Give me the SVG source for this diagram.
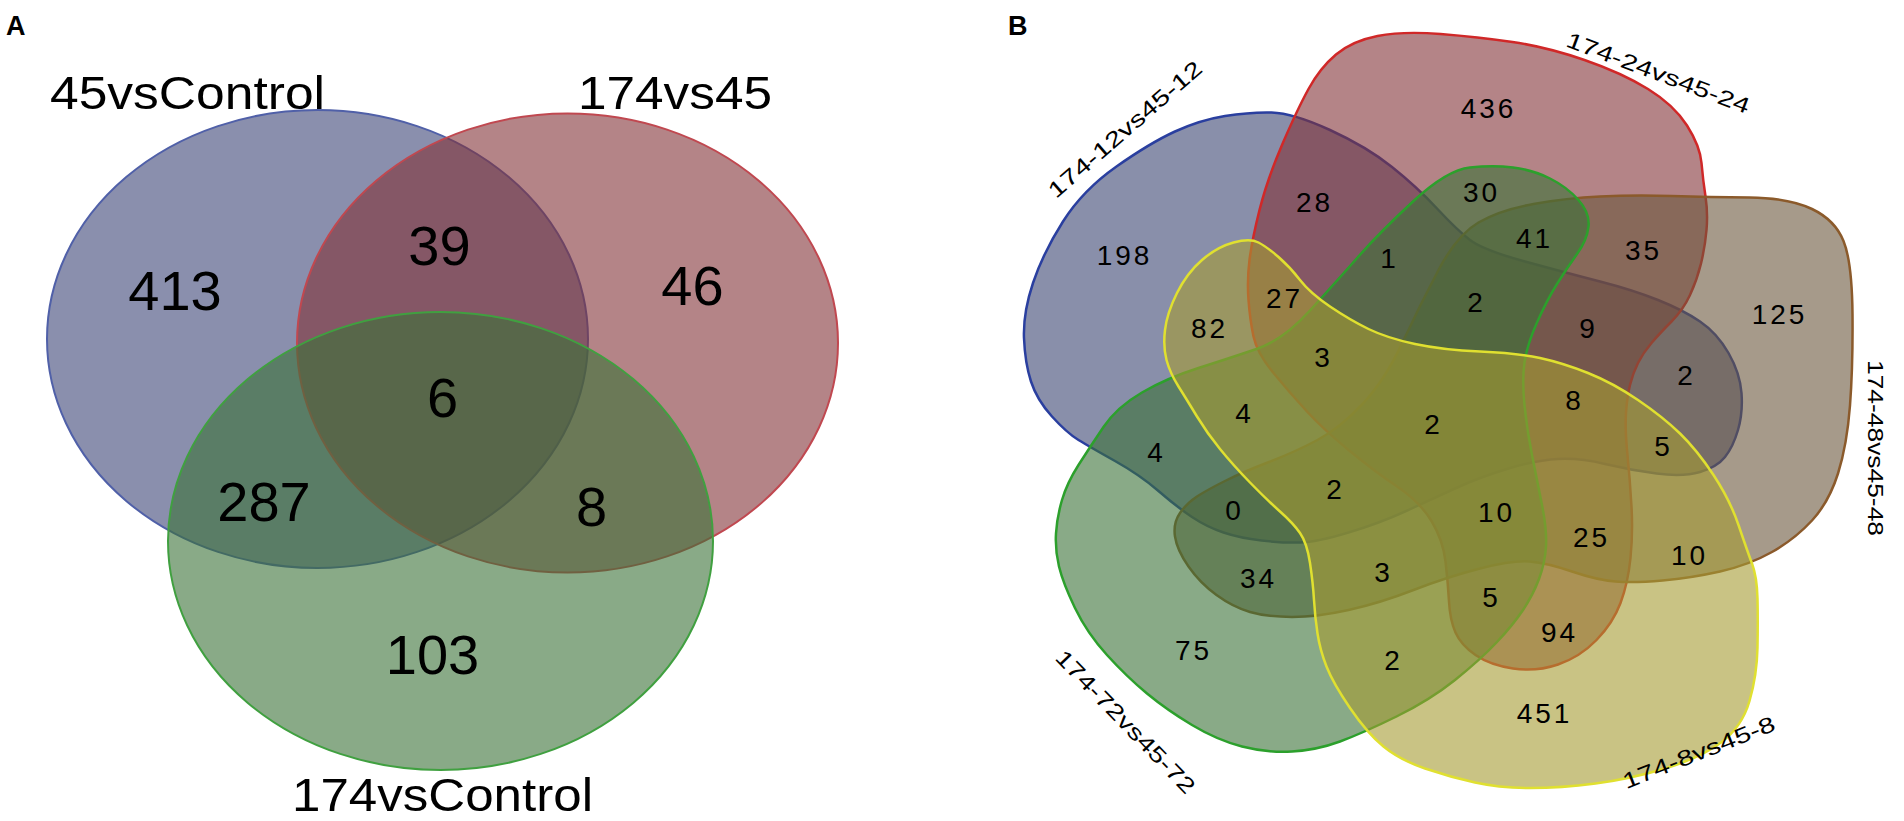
<svg xmlns="http://www.w3.org/2000/svg" width="1904" height="821" viewBox="0 0 1904 821">
<style>
text{font-family:"Liberation Sans",Arial,sans-serif;fill:#000}
.na{font-size:56px;text-anchor:middle}
.nb{font-size:28px;text-anchor:middle;letter-spacing:3px}
.lab{font-size:47px}
.lab2{font-size:22px;text-anchor:middle}
.pl{font-size:27px;font-weight:bold}
.sa{fill-opacity:0.6;stroke-width:2}
.sb{fill-opacity:0.6;stroke-width:2.5;stroke-linejoin:round}
</style>
<rect width="1904" height="821" fill="#ffffff"/>

<g id="panel-A">
<text class="pl" x="6" y="35">A</text>
<g id="set-45vsControl">
<ellipse class="sa" cx="317.5" cy="339" rx="270.5" ry="229" fill="#3c4476" stroke="#5060a8"/>
</g>
<g id="set-174vs45">
<ellipse class="sa" cx="567.5" cy="343" rx="270.5" ry="229.5" fill="#823237" stroke="#c04850"/>
</g>
<g id="set-174vsControl">
<ellipse class="sa" cx="440.5" cy="541" rx="272.5" ry="229" fill="#3a7137" stroke="#40a040"/>
</g>
<g id="labels-A">
<text class="lab" x="50" y="109" textLength="275" lengthAdjust="spacingAndGlyphs">45vsControl</text>
<text class="lab" x="578" y="109" textLength="194" lengthAdjust="spacingAndGlyphs">174vs45</text>
<text class="lab" x="292" y="811" textLength="301" lengthAdjust="spacingAndGlyphs">174vsControl</text>
</g>
<g id="counts-A">
<text class="na" x="175" y="310">413</text>
<text class="na" x="439.5" y="265">39</text>
<text class="na" x="692.5" y="305">46</text>
<text class="na" x="442.5" y="417">6</text>
<text class="na" x="264" y="521">287</text>
<text class="na" x="591.5" y="526">8</text>
<text class="na" x="432.5" y="674">103</text>
</g>
</g>

<g id="panel-B">
<text class="pl" x="1008" y="35">B</text>
<g id="set-174-12vs45-12">
<path class="sb" fill="#3a4471" stroke="#2a3f9f" d="M1330,130 Q1367,147 1392,167 Q1417,187 1437,208.5 Q1457,230 1470,240 Q1483,250 1525,261.5 Q1567,273 1600,281.5 Q1633,290 1658,300 Q1683,310 1700,321.5 Q1717,333 1728.5,353 Q1740,373 1741.5,393 Q1743,413 1738,430 Q1733,447 1725,457 Q1717,467 1700,472 Q1683,477 1656.5,473.5 Q1630,470 1605,464 Q1580,458 1558.5,459 Q1537,460 1508.5,468.5 Q1480,477 1455,488.5 Q1430,500 1405,511.5 Q1380,523 1348.5,532.5 Q1317,542 1300,542.5 Q1283,543 1261.5,540.5 Q1240,538 1223.5,532.5 Q1207,527 1192,517 Q1177,507 1158.5,491 Q1140,475 1115,461 Q1090,447 1078.5,440 Q1067,433 1052,416.5 Q1037,400 1031,381.5 Q1025,363 1024,338 Q1023,313 1033,283 Q1043,253 1063,221.5 Q1083,190 1116.5,166.5 Q1150,143 1175,131.5 Q1200,120 1225,116 Q1250,112 1271.5,112.5 Q1293,113 1330,130 Z"/>
</g>
<g id="set-174-24vs45-24">
<path class="sb" fill="#823237" stroke="#d02828" d="M1282,145 Q1267,180 1259.5,210 Q1252,240 1249.5,260 Q1247,280 1248.5,300 Q1250,320 1253.5,336.5 Q1257,353 1273.5,373 Q1290,393 1306.5,411 Q1323,429 1348.5,450 Q1374,471 1397,486.5 Q1420,502 1431.5,521 Q1443,540 1445.5,561.5 Q1448,583 1449,601.5 Q1450,620 1455.5,632.5 Q1461,645 1475.5,655 Q1490,665 1513,668.5 Q1536,672 1558,664.5 Q1580,657 1596.5,640 Q1613,623 1620.5,603 Q1628,583 1630.5,558 Q1633,533 1631.5,506.5 Q1630,480 1627.5,455 Q1625,430 1626,413.5 Q1627,397 1630,385 Q1633,373 1638,363 Q1643,353 1651.5,343 Q1660,333 1671.5,321.5 Q1683,310 1690,295 Q1697,280 1701,263.5 Q1705,247 1706.5,230 Q1708,213 1705.5,196.5 Q1703,180 1701.5,163 Q1700,146 1687,125.5 Q1674,105 1648,89 Q1622,73 1584.5,60 Q1547,47 1512.5,42 Q1478,37 1440.5,34 Q1403,31 1377.5,36 Q1352,41 1336,54.5 Q1320,68 1308.5,89 Q1297,110 1282,145 Z"/>
</g>
<g id="set-174-48vs45-48">
<path class="sb" fill="#6b573c" stroke="#8b5a2b" d="M1180,513 Q1187,503 1197,496.5 Q1207,490 1225,481 Q1243,472 1269,462 Q1295,452 1317.5,440 Q1340,428 1362.5,404 Q1385,380 1402.5,342.5 Q1420,305 1438.5,270 Q1457,235 1478.5,222.5 Q1500,210 1533.5,204 Q1567,198 1600,196.5 Q1633,195 1671.5,196 Q1710,197 1749.5,197.5 Q1789,198 1812,209 Q1835,220 1843.5,241 Q1852,262 1852.5,314 Q1853,366 1850,405.5 Q1847,445 1838,473.5 Q1829,502 1812,520.5 Q1795,539 1772,552 Q1749,565 1720,571.5 Q1691,578 1662.5,580.5 Q1634,583 1615.5,581.5 Q1597,580 1572,571.5 Q1547,563 1530,561.5 Q1513,560 1480,568.5 Q1447,577 1413.5,590 Q1380,603 1348.5,610 Q1317,617 1292,617 Q1267,617 1250,612 Q1233,607 1216.5,595 Q1200,583 1188.5,566.5 Q1177,550 1175,536.5 Q1173,523 1180,513 Z"/>
</g>
<g id="set-174-72vs45-72">
<path class="sb" fill="#3a7137" stroke="#2ca02c" d="M1513,167.5 Q1533,170 1550,178.5 Q1567,187 1578.5,200 Q1590,213 1588.5,226.5 Q1587,240 1577,254 Q1567,268 1557,284 Q1547,300 1537,322.5 Q1527,345 1524.5,362.5 Q1522,380 1524.5,405 Q1527,430 1532,455 Q1537,480 1542,505 Q1547,530 1546,546.5 Q1545,563 1539,579 Q1533,595 1523,610 Q1513,625 1496.5,642.5 Q1480,660 1455,680 Q1430,700 1396.5,716.5 Q1363,733 1340,741.5 Q1317,750 1292,751.5 Q1267,753 1242,746.5 Q1217,740 1192,725 Q1167,710 1147,693.5 Q1127,677 1107,655 Q1087,633 1075,608 Q1063,583 1059,566.5 Q1055,550 1056,533.5 Q1057,517 1062,500 Q1067,483 1078.5,465 Q1090,447 1103.5,427 Q1117,407 1142,392.5 Q1167,378 1198.5,368 Q1230,358 1256.5,349 Q1283,340 1309.5,311 Q1336,282 1358,257 Q1380,232 1413.5,201 Q1447,170 1470,167.5 Q1493,165 1513,167.5 Z"/>
</g>
<g id="set-174-8vs45-8">
<path class="sb" fill="#a59b32" stroke="#e0e030" d="M1258.5,242.5 Q1267,247 1278.5,257 Q1290,267 1300,280 Q1310,293 1330,306.5 Q1350,320 1368.5,329 Q1387,338 1415,344 Q1443,350 1480,351.5 Q1517,353 1540,358 Q1563,363 1588,373 Q1613,383 1638,400 Q1663,417 1680,433.5 Q1697,450 1713.5,475 Q1730,500 1738.5,525 Q1747,550 1752,563.5 Q1757,577 1757.5,598.5 Q1758,620 1757.5,647.5 Q1757,675 1749.5,701 Q1742,727 1721,742.5 Q1700,758 1665,768.5 Q1630,779 1595.5,783.5 Q1561,788 1530.5,788 Q1500,788 1475,782.5 Q1450,777 1425,768.5 Q1400,760 1383.5,746.5 Q1367,733 1350,708 Q1333,683 1326.5,666.5 Q1320,650 1317.5,633.5 Q1315,617 1314,600 Q1313,583 1310,563 Q1307,543 1300,533 Q1293,523 1280,511.5 Q1267,500 1250,482.5 Q1233,465 1220,449 Q1207,433 1197,416.5 Q1187,400 1178.5,386.5 Q1170,373 1166.5,360 Q1163,347 1165,330 Q1167,313 1177,293 Q1187,273 1202,260 Q1217,247 1233.5,242.5 Q1250,238 1258.5,242.5 Z"/>
</g>
<g id="labels-B">
<text class="lab2" transform="translate(1130,135) rotate(-41)" textLength="196" lengthAdjust="spacingAndGlyphs">174-12vs45-12</text>
<text class="lab2" transform="translate(1655.5,80) rotate(20.5)" textLength="194" lengthAdjust="spacingAndGlyphs">174-24vs45-24</text>
<text class="lab2" transform="translate(1868,448) rotate(90)" textLength="176" lengthAdjust="spacingAndGlyphs">174-48vs45-48</text>
<text class="lab2" transform="translate(1701.5,759.5) rotate(-21.5)" textLength="162" lengthAdjust="spacingAndGlyphs">174-8vs45-8</text>
<text class="lab2" transform="translate(1120,727) rotate(46)" textLength="190" lengthAdjust="spacingAndGlyphs">174-72vs45-72</text>
</g>
<g id="counts-B">
<text class="nb" x="1124.5" y="265">198</text>
<text class="nb" x="1488.5" y="118">436</text>
<text class="nb" x="1779.5" y="324">125</text>
<text class="nb" x="1544.5" y="723">451</text>
<text class="nb" x="1193.5" y="660">75</text>
<text class="nb" x="1314.5" y="212">28</text>
<text class="nb" x="1209.5" y="338">82</text>
<text class="nb" x="1284.5" y="308">27</text>
<text class="nb" x="1389.5" y="268">1</text>
<text class="nb" x="1481.5" y="202">30</text>
<text class="nb" x="1534.5" y="248">41</text>
<text class="nb" x="1643.5" y="260">35</text>
<text class="nb" x="1476.5" y="312">2</text>
<text class="nb" x="1588.5" y="338">9</text>
<text class="nb" x="1686.5" y="385">2</text>
<text class="nb" x="1323.5" y="367">3</text>
<text class="nb" x="1244.5" y="423">4</text>
<text class="nb" x="1433.5" y="434">2</text>
<text class="nb" x="1574.5" y="410">8</text>
<text class="nb" x="1663.5" y="456">5</text>
<text class="nb" x="1156.5" y="462">4</text>
<text class="nb" x="1234.5" y="520">0</text>
<text class="nb" x="1335.5" y="499">2</text>
<text class="nb" x="1496.5" y="522">10</text>
<text class="nb" x="1591.5" y="547">25</text>
<text class="nb" x="1689.5" y="565">10</text>
<text class="nb" x="1258.5" y="588">34</text>
<text class="nb" x="1383.5" y="582">3</text>
<text class="nb" x="1491.5" y="607">5</text>
<text class="nb" x="1559.5" y="642">94</text>
<text class="nb" x="1393.5" y="670">2</text>
</g>
</g>
</svg>
